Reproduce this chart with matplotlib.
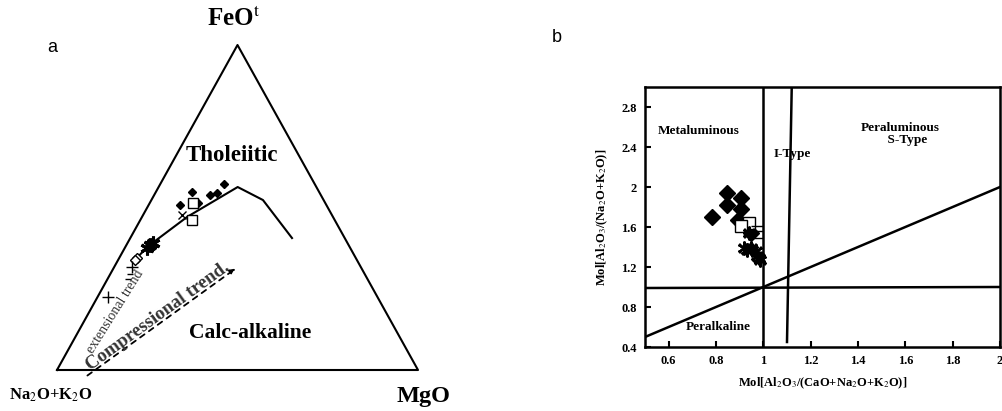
import numpy as np
import matplotlib
matplotlib.use("Agg")
import matplotlib.pyplot as plt

plt.rcParams['font.family'] = ['Liberation Serif', 'DejaVu Serif']
plt.rcParams['mathtext.fontset'] = 'stix'

# ---- panel a : AFM ternaire (FeOt, Na2O+K2O, MgO) en %
limite_F = [33.2, 37.8, 47.1, 56.3, 52.3, 40.6]
limite_M = [4.5, 6.0, 12.5, 21.9, 30.9, 44.8]

diam_F = [50.8, 54.8, 51.4, 53.8, 54.5, 57.2]
diam_M = [8.7, 10.0, 13.4, 15.5, 17.1, 17.7]
carre_F = [46.2, 51.4]
carre_M = [14.3, 12.0]
croix_F = [47.7]
croix_M = [10.8]
etoile_F = [38.5, 39.1, 37.5]
etoile_M = [6.6, 7.0, 6.2]
losange_F = [34.5, 33.8]
losange_M = [5.0, 4.7]
plus_F = [31.7, 22.5]
plus_M = [5.0, 2.9]
tiret_F = [29.5, 28.0]
tiret_M = [5.4, 5.6]

# ---- panel b : Shand
b_diam_x = [0.848, 0.904, 0.845, 0.907, 0.781, 0.892, 0.946]
b_diam_y = [1.945, 1.894, 1.817, 1.784, 1.699, 1.669, 1.542]
b_carre_x = [0.939, 0.907]
b_carre_y = [1.643, 1.608]
b_tiret_x = [0.974, 0.974, 0.974]
b_tiret_y = [1.61, 1.56, 1.49]
b_etoile_x = [0.939, 0.946, 0.967, 0.981, 0.932, 0.918, 0.953, 0.974, 0.988]
b_etoile_y = [1.542, 1.391, 1.357, 1.29, 1.374, 1.391, 1.374, 1.306, 1.273]
b_xticks = [0.6, 0.8, 1.0, 1.2, 1.4, 1.6, 1.8, 2.0]
b_xlabels = ['0.6', '0.8', '1', '1.2', '1.4', '1.6', '1.8', '2']
b_yticks = [0.4, 0.8, 1.2, 1.6, 2.0, 2.4, 2.8]
b_ylabels = ['0.4', '0.8', '1.2', '1.6', '2', '2.4', '2.8']


def tern(F, M):
    # x = M + F/2 ; y = F (hauteur normalisee)
    F = np.array(F) / 100.0
    M = np.array(M) / 100.0
    return M + F / 2.0, F


fig = plt.figure(figsize=(10.02, 4.11), dpi=100)

# ---------- a ----------
ax1 = fig.add_axes([57 / 1002, 1 - 370 / 411, 361 / 1002, 325 / 411])
ax1.set_xlim(0, 1)
ax1.set_ylim(0, 1)
ax1.axis('off')
ax1.plot([0, 1, 0.5, 0], [0, 0, 1, 0], 'k-', lw=1.5, clip_on=False)

x, y = tern(limite_F, limite_M)
ax1.plot(x, y, 'k-', lw=1.5)
x, y = tern(diam_F, diam_M)
ax1.plot(x, y, 'kD', ms=4, ls='none')
x, y = tern(carre_F, carre_M)
ax1.plot(x, y, 's', mfc='white', mec='k', ms=7, ls='none')
x, y = tern(croix_F, croix_M)
ax1.plot(x, y, 'kx', ms=6, ls='none')
x, y = tern(etoile_F, etoile_M)
ax1.plot(x, y, marker=(6, 2, 0), color='k', ms=10, mew=2.2, ls='none')
x, y = tern(losange_F, losange_M)
ax1.plot(x, y, 'D', mfc='white', mec='k', ms=5, ls='none')
x, y = tern(plus_F, plus_M)
ax1.plot(x, y, 'k+', ms=8, ls='none')
x, y = tern(tiret_F, tiret_M)
ax1.plot(x, y, 'k_', ms=5, ls='none')

ax1.annotate('', xy=(0.501, 0.317), xytext=(0.078, -0.022),
             arrowprops=dict(arrowstyle='-|>', ls=(0, (3, 3)), color='k',
                             lw=1.3, mutation_scale=8), annotation_clip=False)
ax1.text(0.28, 0.165, 'Compressional trend.', rotation=36, fontsize=13.5,
         fontweight='bold', ha='center', va='center', color='#333333')
ax1.text(0.162, 0.18, 'extensional trend', rotation=58, fontsize=10,
         ha='center', va='center', color='#333333')
ax1.text(0.485, 0.66, 'Tholeiitic', fontsize=16.5, fontweight='bold',
         ha='center', va='center')
ax1.text(0.535, 0.115, 'Calc-alkaline', fontsize=15.5, fontweight='bold',
         ha='center', va='center')

fig.text(234 / 1002, 1 - 18 / 411, r'FeO$^{\mathrm{t}}$', fontsize=18,
         fontweight='bold', ha='center', va='center')
fig.text(423 / 1002, 1 - 396 / 411, 'MgO', fontsize=17.5, fontweight='bold',
         ha='center', va='center')
fig.text(51 / 1002, 1 - 395 / 411, r'Na$_2$O+K$_2$O', fontsize=12,
         fontweight='bold', ha='center', va='center')
fig.text(52 / 1002, 1 - 47 / 411, 'a', fontsize=13, family='Liberation Sans',
         ha='center', va='center')
fig.text(557 / 1002, 1 - 38 / 411, 'b', fontsize=13, family='Liberation Sans',
         ha='center', va='center')

# ---------- b ----------
ax2 = fig.add_axes([645 / 1002, 1 - 347 / 411, 355 / 1002, 260 / 411])
ax2.set_xlim(0.5, 2.0)
ax2.set_ylim(0.4, 3.0)
for s in ax2.spines.values():
    s.set_linewidth(1.8)

ax2.plot([1.0, 1.0], [0.4, 3.0], 'k-', lw=1.8)
ax2.plot([1.1, 1.12], [0.45, 3.0], 'k-', lw=1.8)
ax2.plot([0.5, 2.0], [0.99, 1.0], 'k-', lw=1.8)
ax2.plot([0.5, 2.0], [0.5, 2.0], 'k-', lw=1.8)

ax2.plot(b_diam_x, b_diam_y, 'kD', ms=8.5, ls='none')
ax2.plot(b_carre_x, b_carre_y, 's', mfc='white', mec='k', ms=8, ls='none')
ax2.plot(b_tiret_x, b_tiret_y, 'k_', ms=8, ls='none')
ax2.plot(b_etoile_x, b_etoile_y, marker=(6, 2, 0), color='k', ms=10,
         mew=1.5, ls='none')
ax2.plot(b_etoile_x, b_etoile_y, 'kx', ms=7, ls='none')

ax2.text(0.727, 2.56, 'Metaluminous', fontsize=9.5, fontweight='bold',
         ha='center', va='center')
ax2.text(1.123, 2.33, 'I-Type', fontsize=9.5, fontweight='bold',
         ha='center', va='center')
ax2.text(1.58, 2.53, 'Peraluminous\n    S-Type', fontsize=9.5, fontweight='bold',
         ha='center', va='center', linespacing=1.0)
ax2.text(0.81, 0.6, 'Peralkaline', fontsize=9.5, fontweight='bold',
         ha='center', va='center')

ax2.set_xticks(b_xticks)
ax2.set_xticklabels(b_xlabels, fontweight='bold', fontsize=9)
ax2.set_yticks(b_yticks)
ax2.set_yticklabels(b_ylabels, fontweight='bold', fontsize=9)
ax2.tick_params(direction='in', length=4, width=1.5, pad=6)
ax2.set_xlabel(r'Mol[Al$_2$O$_3$/(CaO+Na$_2$O+K$_2$O)]', fontsize=9,
               fontweight='bold', labelpad=6)
ax2.set_ylabel(r'Mol[Al$_2$O$_3$/(Na$_2$O+K$_2$O)]', fontsize=9,
               fontweight='bold', labelpad=8)

fig.savefig('out.png', dpi=100)
